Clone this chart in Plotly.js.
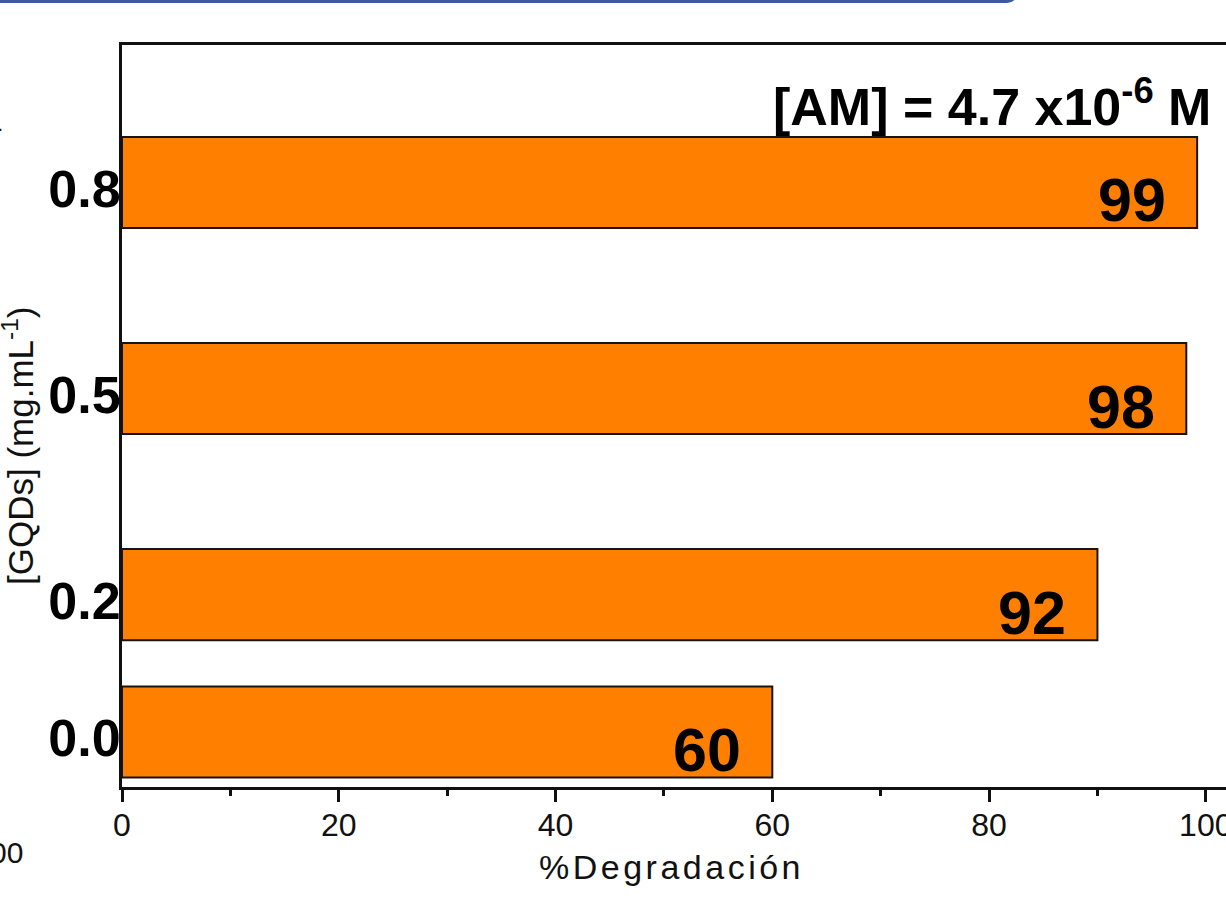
<!DOCTYPE html>
<html>
<head>
<meta charset="utf-8">
<script src="https://cdn.plot.ly/plotly-3.0.1.min.js"></script>
<style>
  html, body { margin: 0; padding: 0; background: #fff; overflow: hidden; width: 1226px; height: 907px; position: relative; }
  #chart { position: absolute; left: 0; top: 0; width: 1290px; height: 907px; }
  #frame { position: absolute; left: -20px; top: -19px; width: 1030px; height: 14px; border: 4px solid #3b5c9c; border-radius: 14px; }
  .stray { position: absolute; font-family: "Liberation Sans", Arial, sans-serif; color: #111; }
  .xtitle { letter-spacing: 3.5px; }
</style>
</head>
<body>
<div id="chart"></div>
<div id="frame"></div>
<div class="stray" style="left:-14px; top:104px; font-size:30px;">1</div>
<div class="stray" style="left:-10px; top:836px; font-size:30px;">00</div>
<script>
// Data
const concentrations = [0.0, 0.2, 0.5, 0.8];          // [GQDs] (mg.mL-1)
const concLabels     = ["0.0", "0.2", "0.5", "0.8"];
const degradation    = [60, 90, 98.2, 99.2];           // % degradation (bar lengths)
const valueLabels    = ["60", "92", "98", "99"];       // printed labels
const xTickVals      = [0, 20, 40, 60, 80, 100];
const noteText       = "[AM] = 4.7 x10<sup>-6</sup> M";
const xTitle         = "%Degradación";
const yTitle         = "[GQDs] (mg.mL<sup>-1</sup>)";

const FONT = '"Liberation Sans", Arial, sans-serif';

const trace = {
  type: 'bar',
  orientation: 'h',
  x: degradation,
  y: concentrations,
  width: 0.1325,
  marker: { color: '#ff8000', line: { color: '#151515', width: 2 } },
  hoverinfo: 'skip'
};

const annotations = concentrations.map((c, i) => ({
  xref: 'x', yref: 'y',
  x: degradation[i], y: c,
  xanchor: 'right', yanchor: 'middle',
  xshift: -29, yshift: -18,
  text: valueLabels[i],
  showarrow: false,
  font: { family: FONT, size: 61, color: '#000', weight: 'bold' }
}));

annotations.push({
  xref: 'x', yref: 'y', x: 100.7, y: 0.915,
  xanchor: 'right', yanchor: 'middle',
  text: noteText, showarrow: false,
  font: { family: FONT, size: 52, color: '#000', weight: 'bold' }
});

annotations.push({
  xref: 'paper', yref: 'paper', x: 0, y: 0.5,
  xshift: -104, yshift: -30,
  xanchor: 'center', yanchor: 'middle',
  textangle: -90,
  text: yTitle, showarrow: false,
  font: { family: FONT, size: 35, color: '#111' }
});

// x-axis title drawn as an annotation so it can be placed like the reference
annotations.push({
  xref: 'paper', yref: 'paper', x: 0.5, y: 0,
  xshift: -20, yshift: -80,
  xanchor: 'center', yanchor: 'middle',
  text: xTitle, showarrow: false,
  font: { family: FONT, size: 34, color: '#111' },
  name: 'xtitle'
});

const layout = {
  width: 1290, height: 907,
  margin: { l: 122, r: 30, t: 45, b: 120 },
  paper_bgcolor: '#fff', plot_bgcolor: '#fff',
  showlegend: false,
  bargap: 0,
  xaxis: {
    range: [0, 105],
    tickvals: xTickVals,
    ticktext: xTickVals.map(String),
    ticks: 'outside', ticklen: 12, tickwidth: 3, tickcolor: '#111',
    ticklabelstandoff: -4,
    minor: { dtick: 10, tick0: 0, ticks: 'outside', ticklen: 6, tickwidth: 3, tickcolor: '#111', showgrid: false },
    showline: true, linecolor: '#111', linewidth: 3, mirror: true,
    showgrid: false, zeroline: false,
    tickfont: { family: FONT, size: 32, color: '#111' }
  },
  yaxis: {
    range: [-0.08, 1.0],
    tickvals: concentrations,
    ticktext: concLabels,
    ticks: '',
    ticklabelstandoff: -12,
    ticklabelshift: 6,
    showline: true, linecolor: '#111', linewidth: 3,
    showgrid: false, zeroline: false,
    tickfont: { family: FONT, size: 52, color: '#000', weight: 'bold' }
  },
  annotations: annotations
};

Plotly.newPlot('chart', [trace], layout, { displayModeBar: false, staticPlot: true }).then(() => {
  document.querySelectorAll('#chart .annotation-text').forEach(t => {
    if (t.textContent === xTitle) t.classList.add('xtitle');
  });
});
</script>
</body>
</html>
